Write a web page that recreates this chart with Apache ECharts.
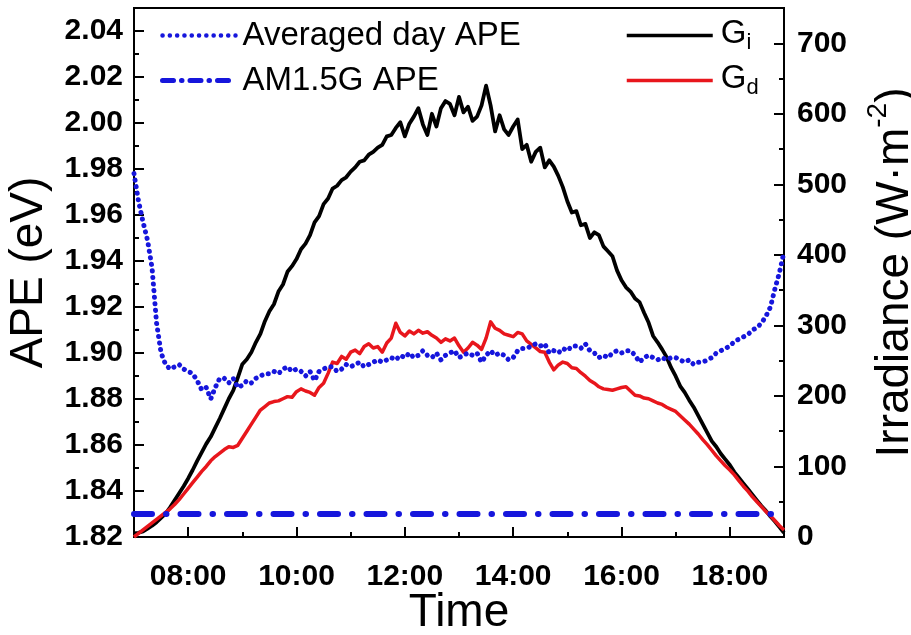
<!DOCTYPE html>
<html>
<head>
<meta charset="utf-8">
<script src="https://cdn.jsdelivr.net/npm/echarts@6/dist/echarts.min.js"></script>
<style>
html,body{margin:0;padding:0;background:#fff;}
#chart{width:911px;height:635px;}
</style>
</head>
<body>
<div id="chart"></div>
<script>
// ---- data ----
const times = [
"07:00","07:05","07:10","07:15","07:20","07:25","07:30","07:35","07:40","07:45","07:50","07:55",
"08:00","08:05","08:10","08:15","08:20","08:25","08:30","08:35","08:40","08:45","08:50","08:55",
"09:00","09:05","09:10","09:15","09:20","09:25","09:30","09:35","09:40","09:45","09:50","09:55",
"10:00","10:05","10:10","10:15","10:20","10:25","10:30","10:35","10:40","10:45","10:50","10:55",
"11:00","11:05","11:10","11:15","11:20","11:25","11:30","11:35","11:40","11:45","11:50","11:55",
"12:00","12:05","12:10","12:15","12:20","12:25","12:30","12:35","12:40","12:45","12:50","12:55",
"13:00","13:05","13:10","13:15","13:20","13:25","13:30","13:35","13:40","13:45","13:50","13:55",
"14:00","14:05","14:10","14:15","14:20","14:25","14:30","14:35","14:40","14:45","14:50","14:55",
"15:00","15:05","15:10","15:15","15:20","15:25","15:30","15:35","15:40","15:45","15:50","15:55",
"16:00","16:05","16:10","16:15","16:20","16:25","16:30","16:35","16:40","16:45","16:50","16:55",
"17:00","17:05","17:10","17:15","17:20","17:25","17:30","17:35","17:40","17:45","17:50","17:55",
"18:00","18:05","18:10","18:15","18:20","18:25","18:30","18:35","18:40","18:45","18:50","18:55",
"19:00"];

// Averaged day APE (eV), left axis
const apeAvg = [
1.978,1.966,1.957,1.949,1.937,1.913,1.900,1.895,1.893,1.894,1.895,1.893,
1.892,1.891,1.888,1.884,1.885,1.880,1.885,1.889,1.889,1.887,1.889,1.885,
1.886,1.888,1.887,1.889,1.890,1.891,1.891,1.892,1.891,1.893,1.894,1.892,
1.893,1.892,1.890,1.892,1.888,1.892,1.893,1.894,1.894,1.892,1.893,1.895,
1.894,1.895,1.896,1.894,1.895,1.896,1.897,1.896,1.897,1.898,1.897,1.899,
1.898,1.900,1.898,1.899,1.901,1.899,1.898,1.900,1.897,1.899,1.900,1.901,
1.898,1.899,1.900,1.899,1.900,1.896,1.899,1.901,1.899,1.900,1.899,1.897,
1.898,1.901,1.902,1.902,1.903,1.904,1.903,1.904,1.900,1.901,1.900,1.902,
1.901,1.903,1.903,1.902,1.904,1.901,1.900,1.898,1.899,1.898,1.900,1.901,
1.900,1.901,1.901,1.899,1.896,1.898,1.899,1.898,1.897,1.898,1.897,1.898,
1.898,1.897,1.896,1.897,1.895,1.896,1.896,1.897,1.898,1.900,1.901,1.902,
1.903,1.905,1.906,1.907,1.908,1.910,1.911,1.913,1.916,1.920,1.928,1.935,
1.944];

// AM1.5G APE (eV), constant reference line
const am15Times = ["07:00","19:00"];
const am15Ape = [1.83,1.83];

// Gi (W/m2), right axis
const gi = [
5,6,8,12,16,21,27,33,42,52,62,72,
83,95,108,120,132,142,155,168,182,196,208,226,
245,252,262,276,288,306,320,330,348,358,376,384,
394,408,416,428,446,455,472,480,494,498,506,510,
518,524,532,534,542,546,552,556,568,570,580,588,
568,586,596,608,585,570,600,582,608,618,614,598,
624,602,610,590,596,612,640,612,575,598,578,570,
582,592,550,556,532,546,552,524,534,525,512,496,
476,460,462,442,444,424,432,428,412,405,398,378,
364,354,348,338,333,318,304,285,276,266,255,240,
228,214,205,194,184,172,160,148,136,128,118,110,
102,92,84,76,68,60,52,44,37,29,22,14,
6];

// Gd (W/m2), right axis
const gd = [
0,5,10,15,20,25,30,35,40,46,53,61,
69,77,85,93,100,108,114,119,124,128,127,130,
140,150,160,170,180,185,190,192,193,196,199,198,
206,210,207,205,201,212,218,232,248,246,256,252,
262,265,260,270,274,268,270,262,275,282,303,290,
285,292,288,293,289,291,286,282,276,281,278,282,
271,262,268,276,272,266,282,305,296,293,288,286,
284,290,288,278,273,268,263,262,248,237,244,248,
246,240,239,233,228,222,218,213,210,209,208,210,
212,213,207,201,200,197,196,193,190,188,184,181,
178,172,166,160,153,146,138,131,123,115,108,101,
95,88,80,72,65,57,50,43,36,30,23,16,
10];

const xTickLabels = ["08:00","10:00","12:00","14:00","16:00","18:00"];
const apeTicks = ["1.82","1.84","1.86","1.88","1.90","1.92","1.94","1.96","1.98","2.00","2.02","2.04"];
const irrTicks = ["0","100","200","300","400","500","600","700"];

// ---- helpers ----
const toH = s => { const p = s.split(':').map(Number); return p[0] + p[1] / 60; };
const pairs = (ts, vals) => vals.map((v, i) => [toH(ts[i]), v]);
const xMajor = xTickLabels.map(toH);

const FONT = 'Liberation Sans';
const BLUE = '#1616dc';
const RED = '#e8161c';
const lineCol = '#000';
const tickStyle = { color: lineCol, width: 2 };
const labelStyle = { fontFamily: FONT, fontSize: 30, fontWeight: 'bold', color: '#000' };
const nameStyle = { fontFamily: FONT, fontSize: 46, color: '#000' };

const chart = echarts.init(document.getElementById('chart'), null, { renderer: 'canvas' });

const option = {
  animation: false,
  backgroundColor: '#fff',
  grid: {
    left: 134, right: 127, top: 8, bottom: 98, containLabel: false, outerBoundsMode: 'none',
    show: true, borderColor: '#000', borderWidth: 2, backgroundColor: 'transparent'
  },
  legend: [
    {
      data: [
        { name: 'Averaged day APE', itemStyle: { opacity: 0 }, lineStyle: { color: BLUE, width: 4.5, type: [0.1, 7.2], cap: 'round' } },
        { name: 'AM1.5G APE', itemStyle: { opacity: 0 }, lineStyle: { color: BLUE, width: 5, type: [11, 8, 0.5, 8], cap: 'round' } }
      ],
      orient: 'vertical', left: 155, top: 12, itemGap: 8,
      itemWidth: 73, itemHeight: 20,
      itemStyle: { opacity: 0 },
      textStyle: { fontFamily: FONT, fontSize: 33, color: '#000', lineHeight: 37, padding: [0, 0, 0, 2] },
      selectedMode: false
    },
    {
      data: [
        { name: 'Gi', itemStyle: { opacity: 0 }, lineStyle: { color: '#000', width: 3.5, type: 'solid' } },
        { name: 'Gd', itemStyle: { opacity: 0 }, lineStyle: { color: RED, width: 3.5, type: 'solid' } }
      ],
      orient: 'vertical', left: 620, top: 12, itemGap: 8,
      itemWidth: 86, itemHeight: 20,
      itemStyle: { opacity: 0 },
      formatter: n => n === 'Gi' ? '{g|G}{s|i}' : '{g|G}{s|d}',
      textStyle: {
        fontFamily: FONT, color: '#000', padding: [0, 0, 0, 3],
        rich: {
          g: { fontFamily: FONT, fontSize: 33, lineHeight: 37, verticalAlign: 'top', color: '#000' },
          s: { fontFamily: FONT, fontSize: 22, lineHeight: 22, verticalAlign: 'bottom', color: '#000' }
        }
      },
      selectedMode: false
    }
  ],
  xAxis: [
    {
      type: 'value', min: 7, max: 19, interval: 1, position: 'bottom',
      axisLine: { show: true, lineStyle: { color: lineCol, width: 2 } },
      axisTick: { show: true, inside: true, length: 5, lineStyle: tickStyle },
      axisLabel: {
        ...labelStyle, margin: 25,
        customValues: xMajor,
        formatter: v => { const i = xMajor.findIndex(t => Math.abs(t - v) < 1e-6); return i >= 0 ? xTickLabels[i] : ''; }
      },
      splitLine: { show: false },
      name: 'Time', nameLocation: 'middle', nameGap: 53, nameMoveOverlap: false, nameTextStyle: nameStyle
    },
    {
      type: 'value', min: 7, max: 19, position: 'bottom',
      axisLine: { show: false },
      axisTick: { show: true, inside: true, length: 10, lineStyle: tickStyle, customValues: xMajor },
      axisLabel: { show: false },
      splitLine: { show: false }
    }
  ],
  yAxis: [
    {
      type: 'value', min: 1.82, max: 2.05, interval: 0.02, position: 'left',
      axisLine: { show: true, lineStyle: { color: lineCol, width: 2 } },
      axisTick: { show: true, inside: true, length: 10, lineStyle: tickStyle },
      axisLabel: {
        ...labelStyle, margin: 11, showMaxLabel: false,
        formatter: v => { const s = v.toFixed(2); return apeTicks.includes(s) ? s : ''; }
      },
      splitLine: { show: false },
      name: 'APE (eV)', nameLocation: 'middle', nameRotate: 90, nameGap: 82, nameTextStyle: nameStyle
    },
    {
      type: 'value', min: 0, max: 750, interval: 100, position: 'right',
      axisLine: { show: true, lineStyle: { color: lineCol, width: 2 } },
      axisTick: { show: true, inside: true, length: 10, lineStyle: tickStyle },
      axisLabel: {
        ...labelStyle, margin: 13, showMaxLabel: false,
        formatter: v => { const s = String(Math.round(v)); return irrTicks.includes(s) ? s : ''; }
      },
      splitLine: { show: false },
      name: '{t|Irradiance (W·m}{p|-2}{t|)}', nameLocation: 'middle', nameRotate: 90, nameGap: 80,
      nameTextStyle: {
        ...nameStyle,
        rich: {
          t: { fontFamily: FONT, fontSize: 46, lineHeight: 54, verticalAlign: 'bottom', color: '#000' },
          p: { fontFamily: FONT, fontSize: 28, lineHeight: 28, verticalAlign: 'top', color: '#000' }
        }
      }
    },
    {
      type: 'value', min: 1.82, max: 2.05, interval: 0.01, position: 'left',
      axisLine: { show: false },
      axisTick: { show: true, inside: true, length: 5, lineStyle: tickStyle },
      axisLabel: { show: false }, splitLine: { show: false }
    },
    {
      type: 'value', min: 0, max: 750, interval: 50, position: 'right',
      axisLine: { show: false },
      axisTick: { show: true, inside: true, length: 5, lineStyle: tickStyle },
      axisLabel: { show: false }, splitLine: { show: false }
    }
  ],
  series: [
    {
      name: 'Gi', type: 'line', xAxisIndex: 0, yAxisIndex: 1, symbol: 'none',
      data: pairs(times, gi),
      lineStyle: { color: '#000', width: 3.8, join: 'round' }, itemStyle: { color: '#000' }, z: 3
    },
    {
      name: 'Gd', type: 'line', xAxisIndex: 0, yAxisIndex: 1, symbol: 'none',
      data: pairs(times, gd),
      lineStyle: { color: RED, width: 3.5, join: 'round' }, itemStyle: { color: RED }, z: 4
    },
    {
      name: 'Averaged day APE', type: 'line', xAxisIndex: 0, yAxisIndex: 0, symbol: 'none',
      data: pairs(times, apeAvg),
      lineStyle: { color: BLUE, width: 5, type: [0.1, 6.5], cap: 'round' }, itemStyle: { color: BLUE }, z: 5
    },
    {
      name: 'AM1.5G APE', type: 'line', xAxisIndex: 0, yAxisIndex: 0, symbol: 'none',
      data: pairs(am15Times, am15Ape),
      lineStyle: { color: BLUE, width: 6, type: [18, 14, 0.5, 14], cap: 'round' }, itemStyle: { color: BLUE }, z: 5
    }
  ]
};
chart.setOption(option);
</script>
</body>
</html>
